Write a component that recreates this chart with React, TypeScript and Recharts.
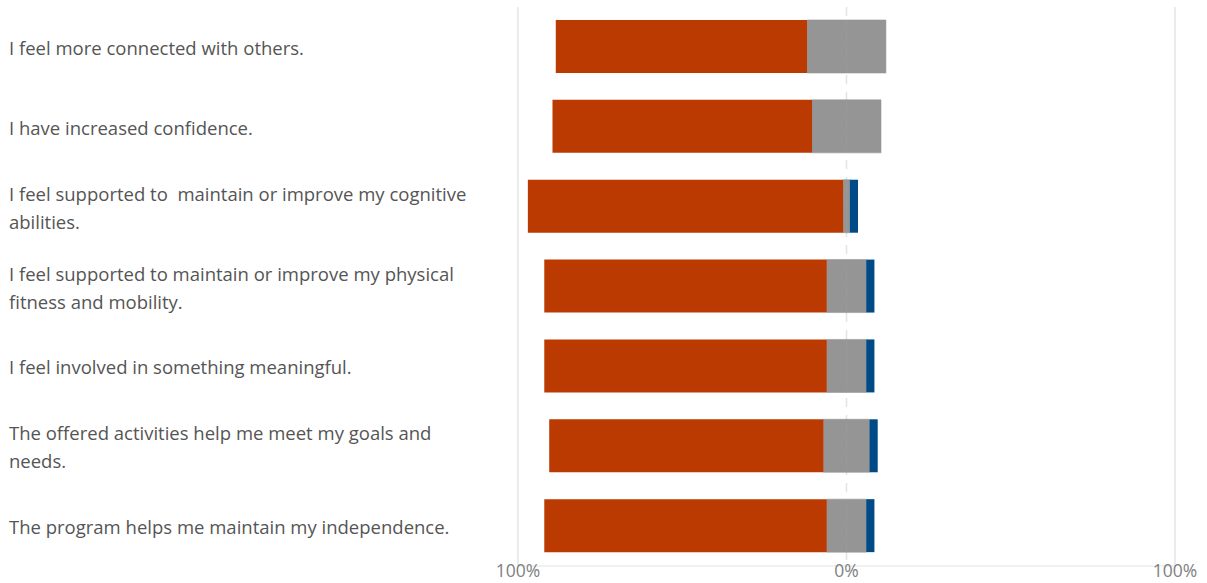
import { BarChart, Bar, XAxis, YAxis, CartesianGrid } from 'recharts';

const categories = [
  'I feel more connected with others.',
  'I have increased confidence.',
  'I feel supported to  maintain or improve my cognitive abilities.',
  'I feel supported to maintain or improve my physical fitness and mobility.',
  'I feel involved in something meaningful.',
  'The offered activities help me meet my goals and needs.',
  'The program helps me maintain my independence.',
];
const agree = [76.5, 79, 96, 86, 86, 83.5, 86];
const neutral = [24, 21, 2, 12, 12, 14, 12];
const disagree = [0, 0, 2.5, 2.5, 2.5, 2.5, 2.5];
const xTicks = [-100, 0, 100];

const data = categories.map((name, i) => ({
  name,
  agree: -agree[i],
  neutralLeft: -neutral[i] / 2,
  neutralRight: neutral[i] / 2,
  disagree: disagree[i],
}));

const FONT = '"Open Sans", "Noto Sans", sans-serif';

function wrap(text: string, max: number) {
  const words = text.split(' ');
  const lines: string[] = [];
  let cur = '';
  words.forEach((w) => {
    const next = cur === '' ? w : cur + ' ' + w;
    if (next.length > max && cur !== '') {
      lines.push(cur);
      cur = w;
    } else {
      cur = next;
    }
  });
  if (cur) lines.push(cur);
  return lines;
}

function LabelTick(props: any) {
  const { y, payload } = props;
  const lines = wrap(payload.value, 53);
  const lh = 28;
  const y0 = y - ((lines.length - 1) * lh) / 2;
  return (
    <text fill="#555" fontSize={18.5} fontFamily={FONT} dominantBaseline="central" style={{ whiteSpace: 'pre' }}>
      {lines.map((l, i) => (
        <tspan key={i} x={9} y={y0 + i * lh}>
          {l}
        </tspan>
      ))}
    </text>
  );
}

// bottom axis labels, kept just inside the page edge
function PctTick(props: any) {
  const { x, payload } = props;
  return (
    <text x={x} y={570} fill="#808080" fontSize={17.5} fontFamily={FONT} textAnchor="middle" dominantBaseline="central">
      {`${Math.abs(payload.value)}%`}
    </text>
  );
}

export default function App() {
  return (
    <div style={{ position: 'absolute', left: 0, top: 0, width: 1207, height: 583, background: '#fff' }}>
      <BarChart
        width={1207}
        height={583}
        data={data}
        layout="vertical"
        stackOffset="sign"
        margin={{ top: 7, right: 32, left: 0, bottom: 0 }}
      >
        <CartesianGrid horizontal={false} verticalValues={[-100, 100]} stroke="#e4e4e4" strokeWidth={1.5} />
        <CartesianGrid horizontal={false} verticalValues={[0]} stroke="#e4e4e4" strokeWidth={1.5} strokeDasharray="9 8" />
        <XAxis
          type="number"
          domain={[-100, 100]}
          ticks={xTicks}
          axisLine={{ stroke: '#e2e2e2' }}
          tickLine={false}
          tick={<PctTick />}
          height={17}
        />
        <YAxis
          type="category"
          dataKey="name"
          width={518}
          axisLine={false}
          tickLine={false}
          tick={<LabelTick />}
          interval={0}
        />
        <Bar dataKey="neutralLeft" stackId="s" fill="#959595" stroke="#959595" strokeWidth={0.6} barSize={53} isAnimationActive={false} />
        <Bar dataKey="agree" stackId="s" fill="#bb3a01" barSize={53} isAnimationActive={false} />
        <Bar dataKey="neutralRight" stackId="s" fill="#959595" stroke="#959595" strokeWidth={0.6} barSize={53} isAnimationActive={false} />
        <Bar dataKey="disagree" stackId="s" fill="#004b87" barSize={53} isAnimationActive={false} />
      </BarChart>
    </div>
  );
}
